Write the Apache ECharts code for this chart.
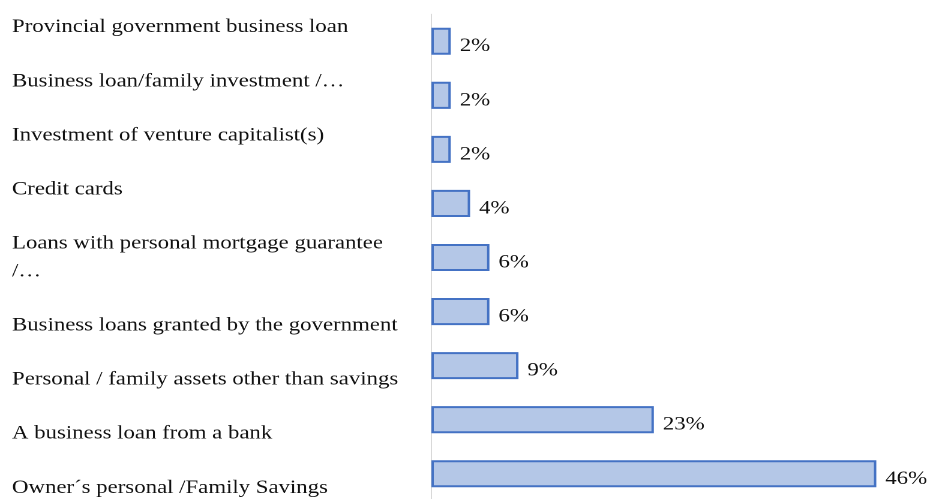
<!DOCTYPE html>
<html>
<head>
<meta charset="utf-8">
<script src="https://cdn.jsdelivr.net/npm/echarts@6/dist/echarts.min.js"></script>
<style>
  html, body { margin: 0; padding: 0; background: #fff; overflow: hidden; }
  /* The chart is laid out in a narrower box and widened horizontally,
     giving the broad serif lettering of the printed figure. */
  #chart {
    width: 772.5px;
    height: 499px;
    transform: scaleX(1.2);
    transform-origin: 0 0;
  }
</style>
</head>
<body>
<div id="chart"></div>
<script>
// Sources of start-up financing (share of firms)
const categories = [
  'Provincial government business loan',
  'Business loan/family investment /…',
  'Investment of venture capitalist(s)',
  'Credit cards',
  'Loans with personal mortgage guarantee\n/…',
  'Business loans granted by the government',
  'Personal / family assets other than savings',
  'A business loan from a bank',
  'Owner´s personal /Family Savings'
];
const shares = [2, 2, 2, 4, 6, 6, 9, 23, 46];

// Single-line labels sit on the upper line before the wrapped entry
// and on the lower line after it, as in the two-line label slots.
const wrappedIndex = categories.findIndex(c => c.indexOf('\n') >= 0);
function categoryLabel(name, idx) {
  if (name.indexOf('\n') >= 0) return name;
  return idx < wrappedIndex ? name + '\n ' : ' \n' + name;
}

const chart = echarts.init(document.getElementById('chart'), null, { renderer: 'canvas', devicePixelRatio: 2 });
const serif = 'Liberation Serif';

chart.setOption({
  animation: false,
  grid: {
    left: 359.5, top: 14.2, height: 486.6, width: 403,
    outerBoundsMode: 'none',
    containLabel: false
  },
  xAxis: {
    type: 'value',
    min: 0,
    max: 50,
    show: false
  },
  yAxis: {
    type: 'category',
    inverse: true,
    data: categories,
    axisLine: { show: true, lineStyle: { color: '#d9d9d9', width: 1 } },
    axisTick: { show: false },
    splitLine: { show: false },
    axisLabel: {
      interval: 0,
      align: 'left',
      margin: 349.5,
      color: '#111',
      fontFamily: serif,
      fontSize: 19,
      lineHeight: 28,
      formatter: categoryLabel
    }
  },
  series: [{
    type: 'bar',
    data: shares,
    barCategoryGap: '50%',
    itemStyle: {
      color: '#b4c7e7',
      borderColor: '#4472c4',
      borderWidth: 2
    },
    label: {
      show: true,
      position: 'right',
      distance: 7.5,
      offset: [0, 5],
      color: '#111',
      fontFamily: serif,
      fontSize: 19,
      formatter: p => p.value + '%'
    }
  }]
});
</script>
</body>
</html>
